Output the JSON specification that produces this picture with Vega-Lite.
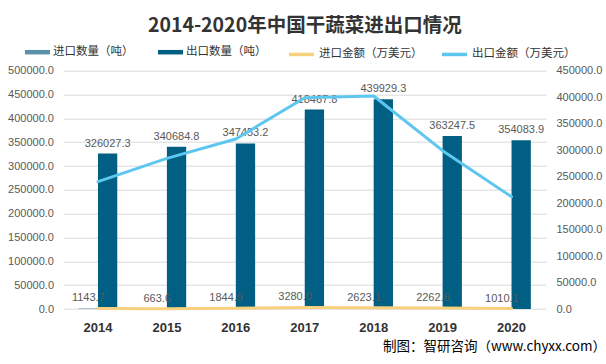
{
  "$schema": "https://vega.github.io/schema/vega-lite/v6.json",
  "width": 482.5,
  "height": 238.3,
  "autosize": {"type": "none"},
  "padding": {"left": 63.5, "top": 70.7, "right": 60, "bottom": 55},
  "background": "white",
  "title": {
    "text": "2014-2020年中国干蔬菜进出口情况",
    "font": "Noto Sans CJK SC",
    "fontSize": 19.5,
    "fontWeight": "bold",
    "color": "#333333",
    "anchor": "middle",
    "frame": "group",
    "baseline": "middle",
    "offset": -6
  },
  "config": {
    "view": {"stroke": null},
    "axis": {"labelFont": "Liberation Sans", "labelColor": "#595959", "labelFontSize": 11, "domain": false, "ticks": false}
  },
  "datasets": {
    "qty": [
      {"year": "2014", "series": "进口数量（吨）", "value": 1143.7},
      {"year": "2014", "series": "出口数量（吨）", "value": 326027.3},
      {"year": "2015", "series": "进口数量（吨）", "value": 663.6},
      {"year": "2015", "series": "出口数量（吨）", "value": 340684.8},
      {"year": "2016", "series": "进口数量（吨）", "value": 1844.9},
      {"year": "2016", "series": "出口数量（吨）", "value": 347453.2},
      {"year": "2017", "series": "进口数量（吨）", "value": 3280.0},
      {"year": "2017", "series": "出口数量（吨）", "value": 418467.8},
      {"year": "2018", "series": "进口数量（吨）", "value": 2623.1},
      {"year": "2018", "series": "出口数量（吨）", "value": 439929.3},
      {"year": "2019", "series": "进口数量（吨）", "value": 2262.6},
      {"year": "2019", "series": "出口数量（吨）", "value": 363247.5},
      {"year": "2020", "series": "进口数量（吨）", "value": 1010.1},
      {"year": "2020", "series": "出口数量（吨）", "value": 354083.9}
    ],
    "amt": [
      {"year": "2014", "series": "进口金额（万美元）", "value": 1100},
      {"year": "2015", "series": "进口金额（万美元）", "value": 600},
      {"year": "2016", "series": "进口金额（万美元）", "value": 1500},
      {"year": "2017", "series": "进口金额（万美元）", "value": 2900},
      {"year": "2018", "series": "进口金额（万美元）", "value": 2300},
      {"year": "2019", "series": "进口金额（万美元）", "value": 2000},
      {"year": "2020", "series": "进口金额（万美元）", "value": 900},
      {"year": "2014", "series": "出口金额（万美元）", "value": 240400},
      {"year": "2015", "series": "出口金额（万美元）", "value": 284500},
      {"year": "2016", "series": "出口金额（万美元）", "value": 321000},
      {"year": "2017", "series": "出口金额（万美元）", "value": 399000},
      {"year": "2018", "series": "出口金额（万美元）", "value": 402200},
      {"year": "2019", "series": "出口金额（万美元）", "value": 299000},
      {"year": "2020", "series": "出口金额（万美元）", "value": 212000}
    ]
  },
  "encoding": {
    "x": {
      "field": "year",
      "type": "nominal",
      "scale": {"paddingInner": 0.44, "paddingOuter": 0.22},
      "axis": {
        "labelAngle": 0,
        "labelFont": "Liberation Sans",
        "labelFontWeight": "bold",
        "labelFontSize": 13,
        "labelColor": "#333333",
        "labelPadding": 12,
        "grid": false,
        "title": "制图：智研咨询（www.chyxx.com）",
        "titleFont": "Noto Sans CJK SC",
        "titleFontSize": 13.5,
        "titleFontWeight": "normal",
        "titleColor": "#000000",
        "titleAnchor": null,
        "titleAlign": "right",
        "titleBaseline": "middle",
        "titleX": 542,
        "titleY": 37
      }
    }
  },
  "layer": [
    {
      "data": {"name": "qty"},
      "encoding": {
        "xOffset": {
          "field": "series",
          "type": "nominal",
          "sort": ["进口数量（吨）", "出口数量（吨）"],
          "scale": {"paddingInner": 0, "paddingOuter": 0}
        },
        "y": {
          "field": "value",
          "type": "quantitative",
          "scale": {"domain": [0, 500000], "nice": false},
          "axis": {
            "title": null,
            "values": [0, 50000, 100000, 150000, 200000, 250000, 300000, 350000, 400000, 450000, 500000],
            "format": ".1f",
            "labelPadding": 10,
            "grid": true,
            "gridColor": "#D9D9D9",
            "gridWidth": 1
          }
        }
      },
      "layer": [
        {
          "mark": {"type": "bar"},
          "encoding": {
            "fill": {
              "field": "series",
              "type": "nominal",
              "sort": ["进口数量（吨）", "出口数量（吨）"],
              "scale": {"domain": ["进口数量（吨）", "出口数量（吨）"], "range": ["#5B91A8", "#005F83"]},
              "legend": {
                "title": null,
                "orient": "none",
                "legendX": -38.5,
                "legendY": -31,
                "direction": "horizontal",
                "symbolType": "M-1,-0.18L1,-0.18L1,0.18L-1,0.18Z",
                "symbolSize": 625,
                "symbolStrokeWidth": 0,
                "labelFont": "Noto Sans CJK SC",
                "labelFontSize": 11.5,
                "labelColor": "#333333",
                "labelOffset": 3,
                "columnPadding": 24,
                "padding": 0
              }
            }
          }
        },
        {
          "mark": {"type": "text", "font": "Liberation Sans", "fontSize": 11, "color": "#595959", "baseline": "alphabetic", "dy": -7},
          "encoding": {
            "text": {"field": "value", "type": "quantitative", "format": ".1f"}
          }
        }
      ]
    },
    {
      "data": {"name": "amt"},
      "mark": {"type": "line", "strokeWidth": 3, "strokeCap": "round", "strokeJoin": "round"},
      "encoding": {
        "y": {
          "field": "value",
          "type": "quantitative",
          "scale": {"domain": [0, 450000], "nice": false},
          "axis": {
            "title": null,
            "orient": "right",
            "values": [0, 50000, 100000, 150000, 200000, 250000, 300000, 350000, 400000, 450000],
            "format": ".1f",
            "labelPadding": 10,
            "grid": false
          }
        },
        "stroke": {
          "field": "series",
          "type": "nominal",
          "scale": {"domain": ["进口金额（万美元）", "出口金额（万美元）"], "range": ["#F8D17F", "#5DC7F0"]},
          "legend": {
            "title": null,
            "orient": "none",
            "legendX": 223.5,
            "legendY": -31,
            "direction": "horizontal",
            "symbolType": "stroke",
            "symbolSize": 625,
            "symbolStrokeWidth": 3.5,
            "labelFont": "Noto Sans CJK SC",
            "labelFontSize": 11.5,
            "labelColor": "#333333",
            "labelOffset": 3,
            "columnPadding": 12,
            "padding": 0
          }
        }
      }
    }
  ],
  "resolve": {"scale": {"y": "independent"}}
}
